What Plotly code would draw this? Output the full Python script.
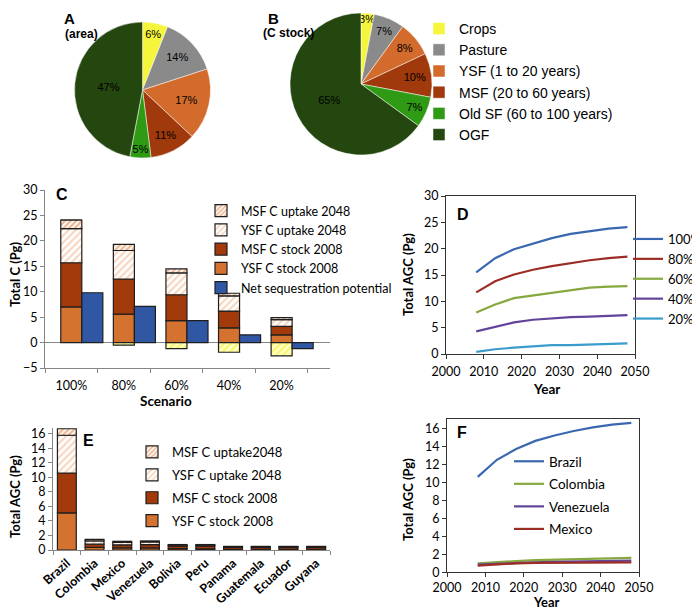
import plotly.graph_objects as go

# pie panels A and B
pie_labels = ["Crops", "Pasture", "YSF (1 to 20 years)", "MSF (20 to 60 years)",
              "Old SF (60 to 100 years)", "OGF"]
area_pct = [6, 14, 17, 11, 5, 47]
stock_pct = [3, 7, 8, 10, 7, 65]
pie_colors = ["#f5f53c", "#8a8a8a", "#d26b2c", "#a0390b", "#2f9a14", "#24460f"]

# panel C - scenarios
scenarios = ["100%", "80%", "60%", "40%", "20%"]
c_ysf_stock = [7.0, 5.6, 4.3, 2.9, 1.5]
c_msf_stock = [8.7, 6.9, 5.1, 3.3, 1.7]
c_ysf_uptake = [6.7, 5.6, 4.3, 3.0, 1.3]
c_msf_uptake = [1.7, 1.2, 0.8, 0.5, 0.4]
c_crop_loss = [0, -0.5, -1.2, -1.9, -2.6]
c_net_seq = [9.8, 7.1, 4.3, 1.5, -1.2]

# panel D - AGC through time per scenario
years = [2008, 2013, 2018, 2023, 2028, 2033, 2038, 2043, 2048]
d_series = {
    "100%": [15.5, 18.2, 19.9, 21.0, 22.0, 22.8, 23.3, 23.8, 24.1],
    "80%": [11.7, 13.8, 15.1, 16.0, 16.7, 17.3, 17.8, 18.2, 18.5],
    "60%": [7.9, 9.4, 10.6, 11.1, 11.7, 12.2, 12.6, 12.8, 12.9],
    "40%": [4.3, 5.2, 6.0, 6.5, 6.8, 7.0, 7.1, 7.3, 7.4],
    "20%": [0.4, 0.9, 1.2, 1.5, 1.7, 1.7, 1.8, 2.0, 2.0],
}
d_colors = ["#3a68b0", "#9c2d25", "#86a83e", "#62449a", "#3a9bcc"]

# panel E - countries
countries = ["Brazil", "Colombia", "Mexico", "Venezuela", "Bolivia", "Peru",
             "Panama", "Guatemala", "Ecuador", "Guyana"]
e_ysf_stock = [5.1, 0.35, 0.3, 0.3, 0.2, 0.15, 0.1, 0.1, 0.1, 0.1]
e_msf_stock = [5.5, 0.45, 0.4, 0.45, 0.35, 0.4, 0.25, 0.25, 0.25, 0.25]
e_ysf_uptake = [5.2, 0.45, 0.35, 0.35, 0.1, 0.1, 0.1, 0.1, 0.1, 0.1]
e_msf_uptake = [0.9, 0.2, 0.15, 0.15, 0.1, 0.1, 0.05, 0.05, 0.05, 0.05]

# panel F - AGC through time per country
f_series = {
    "Brazil": [10.6, 12.5, 13.7, 14.6, 15.2, 15.7, 16.1, 16.4, 16.6],
    "Colombia": [1.0, 1.15, 1.25, 1.35, 1.4, 1.45, 1.5, 1.5, 1.6],
    "Venezuela": [0.85, 0.95, 1.05, 1.1, 1.15, 1.2, 1.2, 1.25, 1.3],
    "Mexico": [0.75, 0.9, 1.0, 1.05, 1.05, 1.1, 1.1, 1.1, 1.1],
}
f_colors = ["#3a68b0", "#86a83e", "#62449a", "#9c2d25"]

FONT = "Lato, 'Open Sans', sans-serif"
ARIAL = "'Liberation Sans', Arial, sans-serif"
GRAY = "#868686"
EDGE = "#1e1e1e"

YSF_COL = "#d4722f"
MSF_COL = "#a33a0b"
NET_COL = "#2f57a3"

# the page body adds an 8px margin around the plot div
BODY = 8


def px_x(px):
    return (px - BODY) / 700


def px_y(py):
    return 1 - (py - BODY) / 610


fig = go.Figure()

# ---- pies ----
fig.add_trace(go.Pie(
    labels=pie_labels, values=area_pct, sort=False, direction="clockwise",
    marker=dict(colors=pie_colors, line=dict(color="white", width=0.5)),
    texttemplate="%{value}%", textposition="inside", insidetextorientation="horizontal",
    textfont=dict(family=ARIAL, size=11, color="black"),
    domain=dict(x=[px_x(74), px_x(211)], y=[px_y(158), px_y(22)]),
    legend="legend", hoverinfo="label+value",
))
fig.add_trace(go.Pie(
    labels=pie_labels, values=stock_pct, sort=False, direction="clockwise",
    marker=dict(colors=pie_colors, line=dict(color="white", width=0.5)),
    texttemplate="%{value}%", textposition="inside", insidetextorientation="horizontal",
    textfont=dict(family=ARIAL, size=11, color="black"),
    domain=dict(x=[px_x(290), px_x(432)], y=[px_y(155), px_y(13)]),
    legend="legend", showlegend=False, hoverinfo="label+value",
))

# ---- panel C ----
xs = list(range(len(scenarios)))
xs_net = [x + 0.4 for x in xs]
c_stack = [
    ("YSF C stock 2008", c_ysf_stock, dict(color=YSF_COL), 4),
    ("MSF C stock 2008", c_msf_stock, dict(color=MSF_COL), 3),
    ("YSF C uptake 2048", c_ysf_uptake,
     dict(color="white", pattern=dict(shape="/", fgcolor="#f0ae80", bgcolor="white", size=5, solidity=0.45)), 2),
    ("MSF C uptake 2048", c_msf_uptake,
     dict(color="white", pattern=dict(shape="/", fgcolor="#d9702c", bgcolor="white", size=4, solidity=0.55)), 1),
]
for name, vals, mk, rank in c_stack:
    fig.add_trace(go.Bar(
        x=xs, y=vals, width=0.4, name=name, legendrank=rank,
        marker=dict(line=dict(color=EDGE, width=1.2), **mk),
        xaxis="x", yaxis="y", legend="legend2",
    ))
fig.add_trace(go.Bar(
    x=xs, y=c_crop_loss, width=0.4, name="Crops", showlegend=False,
    marker=dict(color="white", line=dict(color=EDGE, width=1.2),
                pattern=dict(shape="/", fgcolor="#f2ee1e", bgcolor="#ffffc8", size=5, solidity=0.5)),
    xaxis="x", yaxis="y", legend="legend2",
))
fig.add_trace(go.Bar(
    x=xs_net, y=c_net_seq, width=0.4, name="Net sequestration potential", legendrank=5,
    marker=dict(color=NET_COL, line=dict(color=EDGE, width=1.2)),
    xaxis="x", yaxis="y", legend="legend2",
))

# ---- panel D ----
for (name, vals), col in zip(d_series.items(), d_colors):
    fig.add_trace(go.Scatter(
        x=years, y=vals, mode="lines", name=name, line=dict(color=col, width=2.2),
        xaxis="x2", yaxis="y2", legend="legend3",
    ))

# ---- panel E ----
e_stack = [
    ("YSF C stock 2008", e_ysf_stock, dict(color=YSF_COL), 4),
    ("MSF C stock 2008", e_msf_stock, dict(color=MSF_COL), 3),
    ("YSF C uptake 2048", e_ysf_uptake,
     dict(color="white", pattern=dict(shape="/", fgcolor="#f0ae80", bgcolor="white", size=5, solidity=0.45)), 2),
    ("MSF C uptake2048", e_msf_uptake,
     dict(color="white", pattern=dict(shape="/", fgcolor="#d9702c", bgcolor="white", size=4, solidity=0.55)), 1),
]
for name, vals, mk, rank in e_stack:
    fig.add_trace(go.Bar(
        x=countries, y=vals, width=0.68, name=name, legendrank=rank, legendgroup="e" + name,
        marker=dict(line=dict(color=EDGE, width=1.2), **mk),
        xaxis="x3", yaxis="y3", legend="legend4",
    ))

# ---- panel F ----
for i, ((name, vals), col) in enumerate(zip(f_series.items(), f_colors)):
    fig.add_trace(go.Scatter(
        x=years, y=vals, mode="lines", name=name, line=dict(color=col, width=2.2),
        legendgroup="f" + name, legendrank=i + 1,
        xaxis="x4", yaxis="y4", legend="legend5",
    ))

tick_font = dict(family=FONT, size=12.5, color="black")
axis_gray = dict(showline=True, linecolor=GRAY, linewidth=1, showgrid=False,
                 ticks="outside", ticklen=4, tickcolor=GRAY, tickfont=tick_font)
axis_box = dict(showline=True, linecolor="#333333", linewidth=1, mirror=True, showgrid=False,
                ticks="outside", ticklen=4, tickcolor="#333333", tickfont=tick_font)

boundaries = [x - 0.5 for x in xs] + [xs[-1] + 0.5]


def leg(left, top, family, size, **kw):
    return dict(x=px_x(left), y=px_y(top), xanchor="left", yanchor="top",
                bgcolor="rgba(0,0,0,0)", font=dict(family=family, size=size, color="black"), **kw)


fig.update_layout(
    width=700, height=610, autosize=False,
    margin=dict(l=0, r=0, t=0, b=0, autoexpand=False),
    paper_bgcolor="white", plot_bgcolor="white",
    barmode="relative",
    uniformtext=dict(minsize=11, mode="show"),
    font=dict(family=FONT, color="black"),
    xaxis=dict(domain=[px_x(45), px_x(330)], range=[-0.5, 4.92], tickvals=xs, ticktext=scenarios,
               showline=True, linecolor=GRAY, showgrid=False, zeroline=False, ticks="",
               tickfont=tick_font, ticklabelstandoff=6, automargin=False,
               minor=dict(tickvals=boundaries, ticks="outside", ticklen=4, tickcolor=GRAY),
               anchor="y"),
    yaxis=dict(domain=[px_y(368), px_y(190)], range=[-5, 30], dtick=5, automargin=False,
               zeroline=True, zerolinecolor=GRAY, zerolinewidth=1, anchor="x", **axis_gray),
    xaxis2=dict(domain=[px_x(446), px_x(635)], range=[2000, 2050], dtick=10, zeroline=False,
                ticklabelstandoff=2, automargin=False, anchor="y2", **axis_box),
    yaxis2=dict(domain=[px_y(354), px_y(196)], range=[0, 30], dtick=5, zeroline=False,
                automargin=False, anchor="x2", **axis_box),
    xaxis3=dict(domain=[px_x(53), px_x(330)], showline=True, linecolor=GRAY, showgrid=False,
                ticks="outside", ticklen=4, tickcolor=GRAY, tickson="boundaries",
                tickangle=-42, automargin=False,
                tickfont=dict(family=FONT, size=12.5, color="black", weight="bold"),
                anchor="y3"),
    yaxis3=dict(domain=[px_y(550), px_y(428)], range=[0, 16.8], dtick=2, zeroline=False,
                automargin=False, anchor="x3", **axis_gray),
    xaxis4=dict(domain=[px_x(447), px_x(639)], range=[2000, 2050], dtick=10, zeroline=False,
                ticklabelstandoff=0, automargin=False, anchor="y4", **axis_box),
    yaxis4=dict(domain=[px_y(572.3), px_y(419.3)], range=[0, 17], dtick=2, zeroline=False,
                automargin=False, anchor="x4", **axis_box),
    legend=leg(419, 13, ARIAL, 14, itemclick=False),
    legend2=leg(201, 196, FONT, 12.5, traceorder="normal"),
    legend3=leg(628, 224, FONT, 13, traceorder="normal"),
    legend4=leg(132, 437, FONT, 13, traceorder="grouped", tracegroupgap=3),
    legend5=leg(509, 446, FONT, 13.5, traceorder="grouped", tracegroupgap=2),
)

# panel letters, sub titles and axis titles
notes = [
    ("A", 70, 8, ARIAL, 15, 0, "top"), ("(area)", 81, 34, ARIAL, 12, 0, "middle"),
    ("B", 273, 8, ARIAL, 15, 0, "top"), ("(C stock)", 288, 33, ARIAL, 12, 0, "middle"),
    ("C", 62, 194, ARIAL, 16, 0, "middle"), ("D", 463, 214, ARIAL, 16, 0, "middle"),
    ("E", 88, 440, ARIAL, 16, 0, "middle"), ("F", 462, 432, ARIAL, 16, 0, "middle"),
    ("Total C (Pg)", 15, 275, FONT, 13, -90, "middle"),
    ("Scenario", 166, 401, FONT, 13.5, 0, "middle"),
    ("Total AGC (Pg)", 408, 275, FONT, 13, -90, "middle"),
    ("Year", 546, 389, FONT, 13.5, 0, "middle"),
    ("Total AGC (Pg)", 15, 497, FONT, 13, -90, "middle"),
    ("Total AGC (Pg)", 408, 500, FONT, 13, -90, "middle"),
    ("Year", 546, 602, FONT, 13, 0, "middle"),
]
for text, x, y, fam, size, ang, ya in notes:
    fig.add_annotation(text="<b>%s</b>" % text, x=px_x(x), y=px_y(y), xref="paper", yref="paper",
                       showarrow=False, textangle=ang, xanchor="center", yanchor=ya,
                       font=dict(family=fam, size=size, color="black"))

fig.write_html("out.html")
